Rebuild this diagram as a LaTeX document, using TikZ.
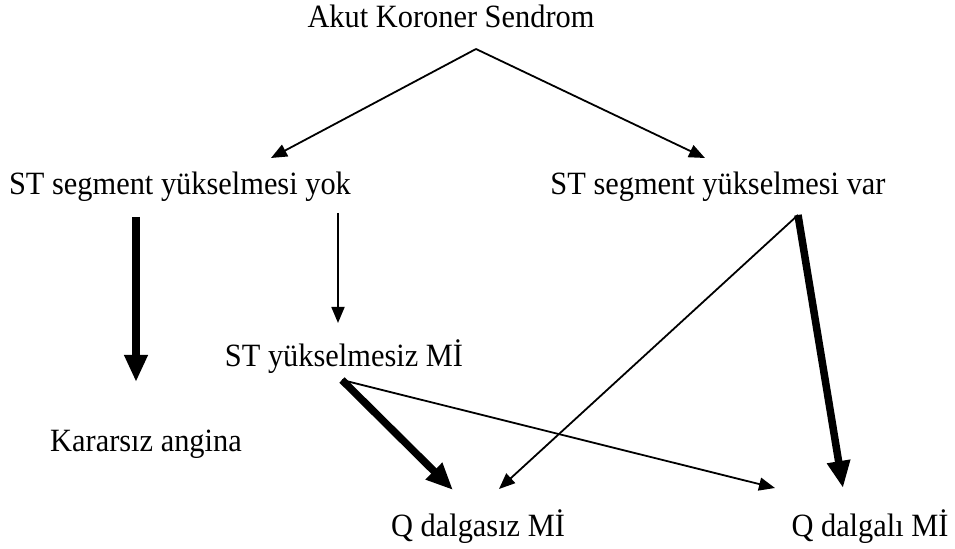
\documentclass[tikz,border=0pt]{standalone}
\usepackage{fontspec}
\setmainfont[FakeStretch=0.935]{Liberation Serif}
\usepackage{tikz}
\usetikzlibrary{arrows.meta,calc}

\tikzset{
  lbl/.style={inner sep=0pt, anchor=base, font=\fontsize{16.25pt}{19pt}\selectfont},
  thinarr/.style={-{Triangle[length=8pt,width=6.5pt]}, line width=0.9pt},
  thickarr/.style={-{Triangle[length=13.5pt,width=11pt]}, line width=3.75pt},
}

\begin{document}
\begin{tikzpicture}[x=0.5pt, y=-0.5pt]

  \useasboundingbox (0,0) rectangle (955,549);

  \node [lbl] (acs)    at (451,28)  {Akut Koroner Sendrom};
  \node [lbl] (yok)    at (180,195) {ST segment yükselmesi yok};
  \node [lbl] (var)    at (718,195) {ST segment yükselmesi var};
  \node [lbl] (nstemi) at (344,367) {ST yükselmesiz Mİ};
  \node [lbl] (ua)     at (146,452) {Kararsız angina};
  \node [lbl] (nqmi)   at (478,537) {Q dalgasız Mİ};
  \node [lbl] (qmi)    at (870,537) {Q dalgalı Mİ};

  \path [thinarr] ($(acs.base)+(25,21)$) edge ($(yok.base)+(91,-37)$) ;

  \path [thinarr] ($(acs.base)+(25,21)$) edge ($(var.base)+(-13,-37)$) ;

  \path [thickarr] ($(yok.base)+(-44,22)$) edge ($(ua.base)+(-10,-70)$) ;

  \path [thinarr] ($(yok.base)+(158,18)$) edge ($(nstemi.base)+(-6,-44)$) ;

  \path [thickarr] ($(nstemi.base)+(-2,13)$) edge ($(nqmi.base)+(-25,-47)$) ;

  \path [thinarr] ($(nstemi.base)+(-2,13)$) edge ($(qmi.base)+(-95,-49)$) ;

  \path [thinarr] ($(var.base)+(80,20)$) edge ($(nqmi.base)+(21,-48)$) ;

  \path [thickarr] ($(var.base)+(80,20)$) edge ($(qmi.base)+(-27,-49)$) ;

\end{tikzpicture}
\end{document}
